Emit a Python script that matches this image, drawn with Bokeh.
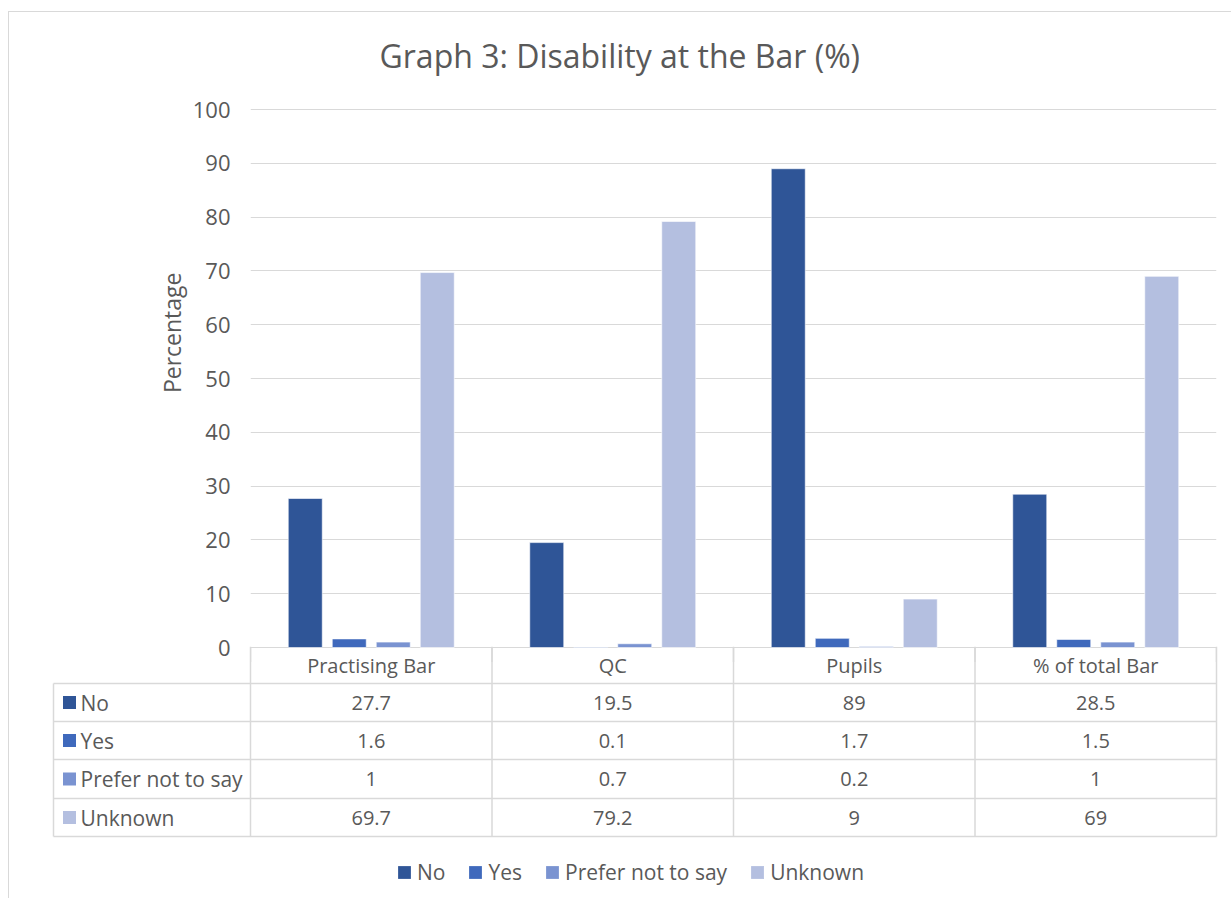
from bokeh.plotting import figure
from bokeh.models import (ColumnDataSource, FactorRange, Range1d, FixedTicker, Title,
                          Legend, LegendItem)
from bokeh.transform import dodge
from bokeh.core.properties import value
from bokeh.embed import file_html
from bokeh.resources import INLINE

# ---------------- data ----------------
categories = ["Practising Bar", "QC", "Pupils", "% of total Bar"]
series = ["No", "Yes", "Prefer not to say", "Unknown"]
no_vals = [27.7, 19.5, 89, 28.5]
yes_vals = [1.6, 0.1, 1.7, 1.5]
prefer_vals = [1, 0.7, 0.2, 1]
unknown_vals = [69.7, 79.2, 9, 69]
y_ticks = [0, 10, 20, 30, 40, 50, 60, 70, 80, 90, 100]

colors = ["#2F5597", "#3F69BC", "#7A93D1", "#B4BFE0"]
values = [no_vals, yes_vals, prefer_vals, unknown_vals]
keys = ["no", "yes", "prefer", "unknown"]

FONT = "Open Sans"
TXT = "#595959"
GRID = "#d9d9d9"
BORDER = "1px solid #d9d9d9"

# canvas origin of both parts is at page x = 9 (8px margin + 1px border)
W = 1223
CAT_PX = 241.5
Y1 = 100.2
TOP = 96             # frame top (canvas px)
ZERO = 635           # y = 0 (canvas px)
H1 = 651             # canvas height of the chart part
K = (ZERO - TOP) / Y1
Y0 = -(H1 - ZERO) / K
OVERLAP = H1 - ZERO

# ---------------- chart ----------------
src = ColumnDataSource(dict(cat=categories, no=no_vals, yes=yes_vals,
                            prefer=prefer_vals, unknown=unknown_vals))

p = figure(x_range=FactorRange(*categories, range_padding=0), y_range=Range1d(Y0, Y1),
           width=W, height=H1, output_backend="svg", toolbar_location=None,
           min_border_left=241, min_border_right=16, min_border_top=TOP,
           min_border_bottom=0, margin=(11, 0, 0, 8),
           styles={"border-left": BORDER, "border-top": BORDER})
p.outline_line_color = None
p.xaxis.visible = False
p.xgrid.visible = False
p.ygrid.ticker = FixedTicker(ticks=y_ticks)
p.ygrid.grid_line_color = GRID
p.ygrid.grid_line_width = 1
p.yaxis.ticker = FixedTicker(ticks=y_ticks)
p.yaxis.axis_line_color = None
p.yaxis.major_tick_line_color = None
p.yaxis.minor_tick_line_color = None
p.yaxis.major_label_standoff = 14
p.yaxis.major_label_text_font = FONT
p.yaxis.major_label_text_font_size = "22px"
p.yaxis.major_label_text_color = TXT

bar_w = 34 / CAT_PX
step = 44 / CAT_PX
offsets = [-1.5 * step, -0.5 * step, 0.5 * step, 1.5 * step]
for k, off, c in zip(keys, offsets, colors):
    p.vbar(x=dodge("cat", off, range=p.x_range), top=k, width=bar_w, source=src,
           fill_color=c, line_color="white", line_width=0.6)

# upper part of the data-table's header cell borders
bx = [0, 1, 2, 3, 4]
p.segment(x0=bx, y0=[Y0] * 5, x1=bx, y1=[0] * 5, line_color=GRID, line_width=1.5)

# spacing between the title and the plot area
p.add_layout(Title(text=" ", text_font_size="14px", standoff=0), "above")
p.add_layout(Title(text="Graph 3: Disability at the Bar (%)", align="left", offset=129,
                   standoff=27, text_font=FONT, text_font_size="32px",
                   text_font_style="normal", text_color=TXT), "above")
p.add_layout(Title(text="Percentage", align="right", offset=164, standoff=4,
                   text_font=FONT, text_font_size="23px", text_font_style="normal",
                   text_color=TXT), "left")

# ---------------- data table + legend ----------------
H2 = 252
left_col = (53 - 250) / CAT_PX
t = figure(x_range=Range1d((9 - 250) / CAT_PX, (9 + W - 250) / CAT_PX),
           y_range=Range1d(-H2, 0), width=W, height=H2,
           output_backend="svg", toolbar_location=None,
           min_border_left=0, min_border_right=0, min_border_top=0, min_border_bottom=0,
           margin=(-OVERLAP, 0, 0, 8), styles={"border-left": BORDER})
t.axis.visible = False
t.grid.visible = False
t.outline_line_color = None
t.background_fill_color = None
t.border_fill_color = None

# row boundaries (px below the zero line)
rows = [0, -37, -75, -113, -152, -190]
centers = [(a + b) / 2 for a, b in zip(rows[:-1], rows[1:])]
n = len(series)

hy = rows[1:]
t.segment(x0=[left_col] * len(hy), y0=hy, x1=[4] * len(hy), y1=hy, line_color=GRID, line_width=1.5)
vx = [left_col, 0, 1, 2, 3, 4]
vy0 = [rows[1], 0, 0, 0, 0, 0]
t.segment(x0=vx, y0=vy0, x1=vx, y1=[rows[-1]] * len(vx), line_color=GRID, line_width=1.5)

# header
t.text(x=[i + 0.5 for i in range(len(categories))], y=[centers[0]] * len(categories),
       text=categories, text_align="center", text_baseline="middle",
       text_font=value(FONT), text_font_size=value("20px"), text_color=TXT)

# values
cx, cy, ct = [], [], []
for r, vals in enumerate(values):
    for i, v in enumerate(vals):
        cx.append(i + 0.5)
        cy.append(centers[r + 1])
        ct.append(f"{v:g}")
t.text(x=cx, y=cy, text=ct, text_align="center", text_baseline="middle",
       text_font=value(FONT), text_font_size=value("20px"), text_color=TXT)

# row labels
lab_x = (80 - 250) / CAT_PX
sq_x = (69 - 250) / CAT_PX
t.text(x=[lab_x] * n, y=centers[1:], text=series,
       text_align="left", text_baseline="middle",
       text_font=value(FONT), text_font_size=value("21px"), text_color=TXT)
sq_renderers = []
for r, c in enumerate(colors):
    sq_renderers.append(t.rect(x=[sq_x], y=[centers[r + 1]], width=13, height=13,
                               width_units="screen", height_units="screen",
                               fill_color=c, line_color=None))

legend = Legend(items=[LegendItem(label=s, renderers=[rr]) for s, rr in zip(series, sq_renderers)],
                orientation="horizontal", location=(387, 12),
                glyph_width=16, glyph_height=16, label_standoff=5, spacing=22,
                padding=0, margin=0, border_line_color=None, background_fill_alpha=0,
                label_text_font=FONT, label_text_font_size="21px", label_text_color=TXT)
t.add_layout(legend)

open("out.html", "w").write(file_html([p, t], INLINE))
